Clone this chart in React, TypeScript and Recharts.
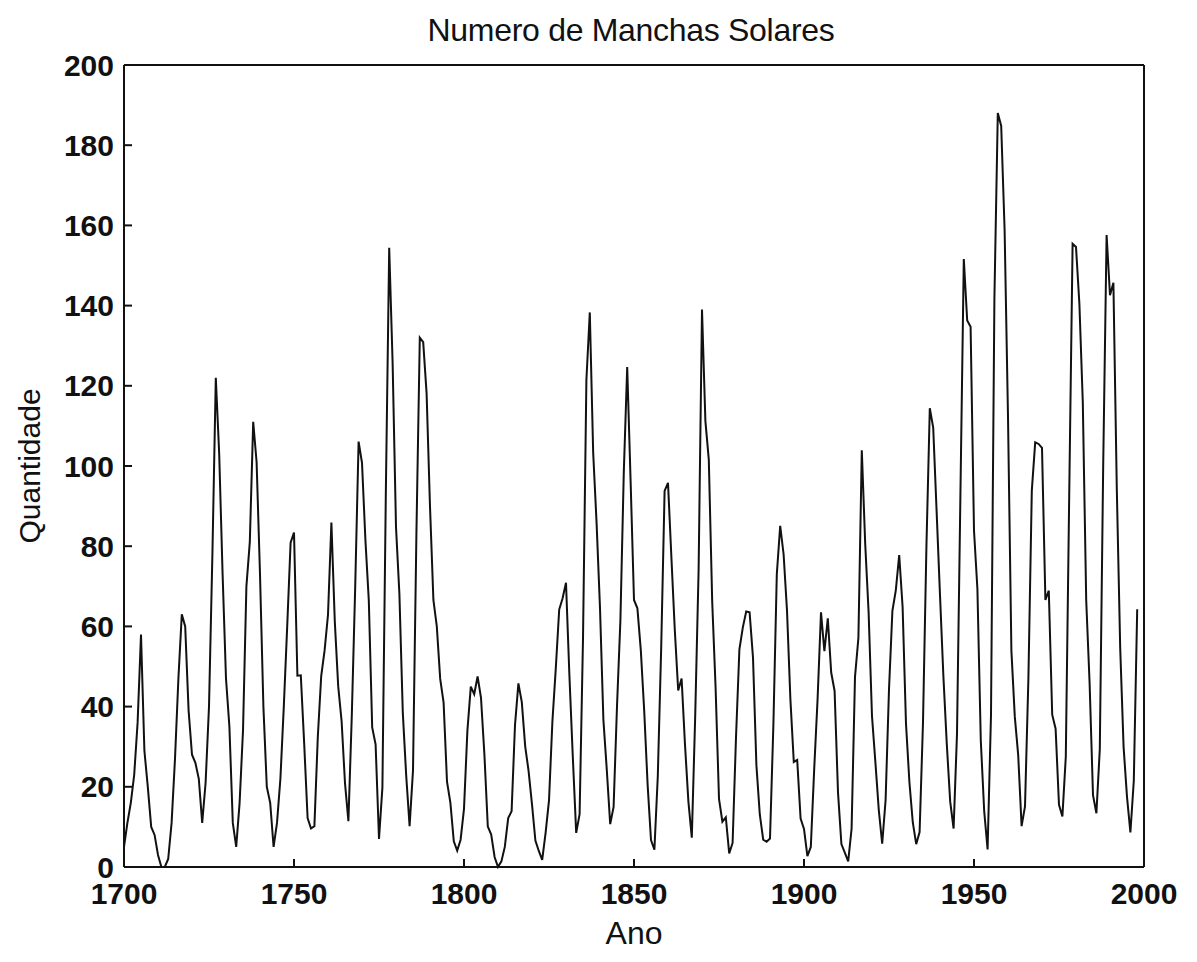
import React from 'react';
import { LineChart, Line, XAxis, YAxis, Label } from 'recharts';

const years: number[] = [];
for (let y = 1700; y <= 1998; y++) years.push(y);

// yearly sunspot numbers (1700-1998)
const sunspots = [
  5, 11, 16, 23, 36, 58, 29, 20, 10, 8, 3, 0, 0, 2, 11, 27, 47, 63, 60, 39,
  28, 26, 22, 11, 21, 40, 78, 122, 103, 73, 47, 35, 11, 5, 16, 34, 70, 81, 111, 101,
  73, 40, 20, 16, 5, 11, 22, 40, 60, 80.9, 83.4, 47.7, 47.8, 30.7, 12.2, 9.6, 10.2, 32.4, 47.6, 54,
  62.9, 85.9, 61.2, 45.1, 36.4, 20.9, 11.4, 37.8, 69.8, 106.1, 100.8, 81.6, 66.5, 34.8, 30.6, 7, 19.8, 92.5, 154.4, 125.9,
  84.8, 68.1, 38.5, 22.8, 10.2, 24.1, 82.9, 132, 130.9, 118.1, 89.9, 66.6, 60, 46.9, 41, 21.3, 16, 6.4, 4.1, 6.8,
  14.5, 34, 45, 43.1, 47.5, 42.2, 28.1, 10.1, 8.1, 2.5, 0, 1.4, 5, 12.2, 13.9, 35.4, 45.8, 41.1, 30.1, 23.9,
  15.6, 6.6, 4, 1.8, 8.5, 16.6, 36.3, 49.6, 64.2, 67, 70.9, 47.8, 27.5, 8.5, 13.2, 56.9, 121.5, 138.3, 103.2, 85.7,
  64.6, 36.7, 24.2, 10.7, 15, 40.1, 61.5, 98.5, 124.7, 96.3, 66.6, 64.5, 54.1, 39, 20.6, 6.7, 4.3, 22.7, 54.8, 93.8,
  95.8, 77.2, 59.1, 44, 47, 30.5, 16.3, 7.3, 37.6, 74, 139, 111.2, 101.6, 66.2, 44.7, 17, 11.3, 12.4, 3.4, 6,
  32.3, 54.3, 59.7, 63.7, 63.5, 52.2, 25.4, 13.1, 6.8, 6.3, 7.1, 35.6, 73, 85.1, 78, 64, 41.8, 26.2, 26.7, 12.1,
  9.5, 2.7, 5, 24.4, 42, 63.5, 53.8, 62, 48.5, 43.9, 18.6, 5.7, 3.6, 1.4, 9.6, 47.4, 57.1, 103.9, 80.6, 63.6,
  37.6, 26.1, 14.2, 5.8, 16.7, 44.3, 63.9, 69, 77.8, 64.9, 35.7, 21.2, 11.1, 5.7, 8.7, 36.1, 79.7, 114.4, 109.6, 88.8,
  67.8, 47.5, 30.6, 16.3, 9.6, 33.2, 92.6, 151.6, 136.3, 134.7, 83.9, 69.4, 31.5, 13.9, 4.4, 38, 141.7, 188, 184.8, 159,
  112.3, 53.9, 37.5, 27.9, 10.2, 15.1, 47, 93.8, 105.9, 105.5, 104.5, 66.6, 68.9, 38, 34.5, 15.5, 12.6, 27.5, 92.5, 155.4,
  154.6, 140.4, 115.9, 66.6, 45.9, 17.9, 13.4, 29.4, 100.2, 157.6, 142.6, 145.7, 94.3, 54.6, 29.9, 17.5, 8.6, 21.5, 64.3,
];

const xTicks = [1700, 1750, 1800, 1850, 1900, 1950, 2000];
const yTicks = [0, 20, 40, 60, 80, 100, 120, 140, 160, 180, 200];

const data = years.map((ano, i) => ({ ano, qtd: sunspots[i] }));

const font = '"Liberation Sans", Arial, sans-serif';
const tickStyle = { fill: '#111', fontSize: 30, fontFamily: font, fontWeight: 'bold' as const };

export default function App() {
  return (
    <div style={{ position: 'relative', width: 1181, height: 946, background: '#fff' }}>
      <div
        style={{
          position: 'absolute', left: 0, width: 1246, top: 4, textAlign: 'center',
          fontFamily: font, fontSize: 32, color: '#111', letterSpacing: -0.3,
        }}
      >
        Numero de Manchas Solares
      </div>
      <LineChart width={1181} height={946} data={data} margin={{ top: 56, right: 44, left: 16, bottom: 27 }}>
        <XAxis
          xAxisId="bottom" dataKey="ano" type="number" domain={[1700, 2000]} ticks={xTicks}
          allowDataOverflow height={60} tickSize={-8} tickMargin={24}
          stroke="#111" strokeWidth={2} tick={tickStyle}
        >
          <Label value="Ano" position="bottom" offset={-6}
            style={{ fill: '#111', fontSize: 32, fontFamily: font }} />
        </XAxis>
        <XAxis
          xAxisId="top" orientation="top" dataKey="ano" type="number" domain={[1700, 2000]} ticks={xTicks}
          height={1} tickSize={-8} tick={false} stroke="#111" strokeWidth={2}
        />
        <YAxis
          yAxisId="left" domain={[0, 200]} ticks={yTicks} width={100} tickSize={-8} tickMargin={18}
          stroke="#111" strokeWidth={2} tick={tickStyle}
        >
          <Label value="Quantidade" angle={-90} position="insideLeft" offset={5}
            style={{ fill: '#111', fontSize: 30, fontFamily: font, textAnchor: 'middle' }} />
        </YAxis>
        <YAxis
          yAxisId="right" orientation="right" domain={[0, 200]} ticks={yTicks} width={1}
          tickSize={-8} tick={false} stroke="#111" strokeWidth={2}
        />
        <Line
          xAxisId="bottom" yAxisId="left" type="linear" dataKey="qtd" stroke="#111"
          strokeWidth={2} dot={false} isAnimationActive={false}
        />
      </LineChart>
    </div>
  );
}
